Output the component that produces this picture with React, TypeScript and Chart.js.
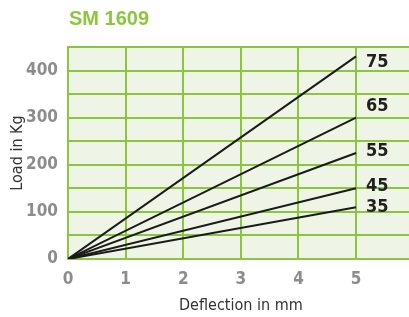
import React, { useEffect, useRef } from "react";
import { Chart, registerables } from "chart.js";

Chart.register(...registerables);

const seriesNames = ["35", "45", "55", "65", "75"];
const deflections = [0, 5];
const endLoads = [110, 150, 225, 300, 430];
const xTicks = [0, 1, 2, 3, 4, 5, 6];
const yLabelledTicks = [0, 100, 200, 300, 400];

const NARROW = '"Liberation Sans Narrow", "Arial Narrow", "DejaVu Sans Condensed", sans-serif';
const GREEN = "#8cc63f";
const labelShift: Record<string, number> = { "75": 6, "65": -11, "55": -2, "45": -2, "35": 0 };

export default function App() {
  const ref = useRef<HTMLCanvasElement | null>(null);
  useEffect(() => {
    if (!ref.current) return;
    const plugin = {
      id: "deco",
      beforeDraw(chart: any) {
        const { ctx, chartArea } = chart;
        ctx.save();
        ctx.fillStyle = "#eef4e6";
        ctx.fillRect(chartArea.left, chartArea.top, chartArea.right - chartArea.left, chartArea.bottom - chartArea.top);
        ctx.restore();
      },
      afterDraw(chart: any) {
        const { ctx } = chart;
        ctx.save();
        ctx.fillStyle = GREEN;
        ctx.font = 'bold 20px "Liberation Sans", Arial, sans-serif';
        ctx.textBaseline = "middle";
        ctx.textAlign = "left";
        ctx.fillText("SM 1609", 69, 19);
        ctx.fillStyle = "#231f20";
        ctx.font = "bold 18px " + NARROW;
        chart.data.datasets.forEach((ds: any, i: number) => {
          const meta = chart.getDatasetMeta(i);
          const pt = meta.data[meta.data.length - 1];
          ctx.fillText(ds.label, pt.x + 10, pt.y + (labelShift[ds.label] || 0));
        });
        ctx.restore();
      },
    };
    const chart = new Chart(ref.current, {
      type: "line",
      data: {
        datasets: seriesNames.map((name, i) => ({
          label: name,
          data: deflections.map((d, j) => ({ x: d, y: j === 0 ? 0 : endLoads[i] })),
          borderColor: "#1a1a1a",
          borderWidth: 2,
          pointRadius: 0,
          fill: false,
        })),
      },
      options: {
        animation: false,
        responsive: false,
        devicePixelRatio: 1,
        layout: { padding: { top: 47, right: 0, left: 0, bottom: 0 } },
        plugins: { legend: { display: false }, tooltip: { enabled: false }, title: { display: false } },
        scales: {
          x: {
            type: "linear",
            min: xTicks[0],
            max: xTicks[xTicks.length - 1],
            afterFit: (s: any) => { s.height = 58; },
            ticks: { stepSize: 1, padding: 10, color: "#8c8c8c", font: { family: NARROW, size: 17, weight: "bold" } },
            grid: { color: GREEN, lineWidth: 2, drawTicks: false },
            border: { color: GREEN, width: 2 },
            title: { display: true, text: "Deflection in mm", color: "#333333", font: { family: NARROW, size: 16 }, padding: { top: 4, bottom: 2 } },
          },
          y: {
            min: 0,
            max: 450,
            afterFit: (s: any) => { s.width = 68; },
            ticks: {
              stepSize: 50,
              padding: 10,
              color: "#8c8c8c",
              font: { family: NARROW, size: 17, weight: "bold" },
              callback: (v: any) => (yLabelledTicks.includes(Number(v)) ? String(v) : ""),
            },
            grid: { color: GREEN, lineWidth: 2, drawTicks: false },
            border: { color: GREEN, width: 2 },
            title: { display: true, text: "Load in Kg", color: "#333333", font: { family: NARROW, size: 16 }, padding: { top: 8, bottom: 0 } },
          },
        },
      },
      plugins: [plugin],
    } as any);
    return () => chart.destroy();
  }, []);
  return (
    <div style={{ position: "fixed", left: 0, top: 0, width: 409, height: 317, overflow: "hidden", background: "#fff" }}>
      <canvas ref={ref} width={429} height={317} style={{ display: "block" }} />
    </div>
  );
}
